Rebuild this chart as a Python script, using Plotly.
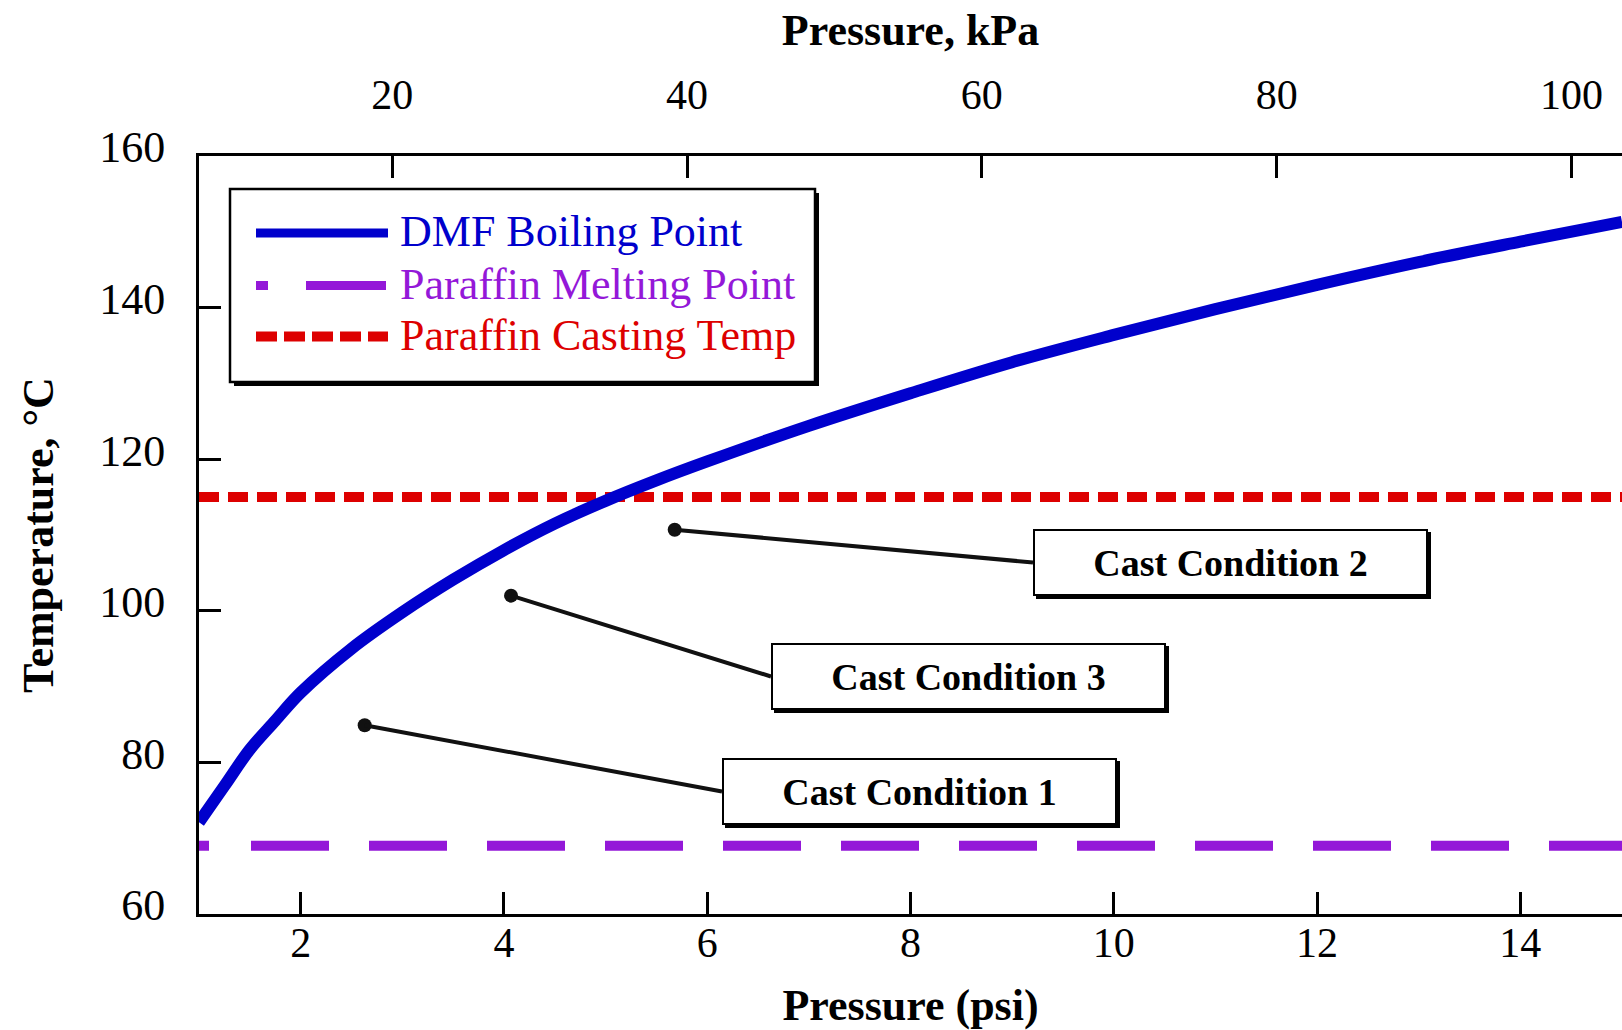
import plotly.graph_objects as go

# ---------------- data ----------------
psi = [1.0, 1.25, 1.5, 1.75, 2.0, 2.5, 3.0, 3.5, 4.0, 4.5, 5.0, 5.5, 6.0,
       7.0, 8.0, 9.0, 10.0, 11.0, 12.0, 13.0, 14.0, 15.0]
dmf_bp = [72.1, 76.9, 81.7, 85.5, 89.2, 95.0, 99.8, 104.1, 108.0, 111.5, 114.5,
          117.2, 119.7, 124.4, 128.7, 132.8, 136.4, 139.8, 143.0, 146.0, 148.7, 151.3]
x_range_psi = [1.0, 15.0]
melting_temp = 69.0
casting_temp = 115.0
cast_labels = ["Cast Condition 1", "Cast Condition 2", "Cast Condition 3"]
cast_psi = [2.63, 5.68, 4.07]
cast_temp = [84.9, 110.7, 102.0]
psi_ticks = [2, 4, 6, 8, 10, 12, 14]
kpa_ticks = [20, 40, 60, 80, 100]
temp_ticks = [60, 80, 100, 120, 140, 160]
KPA_PER_PSI = 6.895
legend_names = ["DMF Boiling Point", "Paraffin Melting Point", "Paraffin Casting Temp"]

# ---------------- layout constants ----------------
W, H = 1622, 1030
L, R, T, B = 199, 1622, 156, 914
FONT = "Liberation Serif, Times New Roman, serif"
BLUE = "#0000CC"
PURPLE = "#9418D8"
RED = "#DD0000"


def pxp(x):
    return (x - L) / (R - L)


def pyp(y):
    return (B - y) / (B - T)


def to_psi(x):
    return x_range_psi[0] + (x - L) / (R - L) * (x_range_psi[1] - x_range_psi[0])


def to_temp(y):
    return temp_ticks[0] + (B - y) / (B - T) * (temp_ticks[-1] - temp_ticks[0])


fig = go.Figure()

fig.add_trace(go.Scatter(x=x_range_psi, y=[casting_temp] * 2, mode="lines",
                         line=dict(color=RED, width=10, dash="20px,9px"),
                         showlegend=False, hoverinfo="skip"))
purple_dash = "10px,42px," + ",".join(["78px,40px"] * 12)
fig.add_trace(go.Scatter(x=x_range_psi, y=[melting_temp] * 2, mode="lines",
                         line=dict(color=PURPLE, width=10, dash=purple_dash),
                         showlegend=False, hoverinfo="skip"))
fig.add_trace(go.Scatter(x=psi, y=dmf_bp, mode="lines",
                         line=dict(color=BLUE, width=12, shape="spline"),
                         showlegend=False))
fig.add_trace(go.Scatter(x=cast_psi, y=cast_temp, mode="markers",
                         marker=dict(color="#111111", size=14),
                         showlegend=False))
# invisible trace on the kPa axis
fig.add_trace(go.Scatter(x=kpa_ticks, y=[None] * len(kpa_ticks), xaxis="x2",
                         mode="markers", showlegend=False, hoverinfo="skip"))

shapes = []
annotations = []

# ---- legend (manual) ----
lg_l, lg_t, lg_r, lg_b = 230, 189, 815, 382
shapes.append(dict(type="rect", xref="paper", yref="paper",
                   x0=pxp(lg_l + 4), x1=pxp(lg_r + 4), y0=pyp(lg_b + 4), y1=pyp(lg_t + 4),
                   fillcolor="black", line=dict(width=0), layer="above"))
shapes.append(dict(type="rect", xref="paper", yref="paper",
                   x0=pxp(lg_l), x1=pxp(lg_r), y0=pyp(lg_b), y1=pyp(lg_t),
                   fillcolor="white", line=dict(color="black", width=2.5), layer="above"))
rows_y = [233, 285.5, 336.5]
samples = [dict(color=BLUE, width=9, dash="solid"),
           dict(color=PURPLE, width=9, dash="12px,38px,80px,200px"),
           dict(color=RED, width=10, dash="21px,7px")]
colors = [BLUE, PURPLE, RED]
for name, yy, ln, c in zip(legend_names, rows_y, samples, colors):
    shapes.append(dict(type="line", xref="paper", yref="paper",
                       x0=pxp(256), x1=pxp(388), y0=pyp(yy), y1=pyp(yy),
                       line=ln, layer="above"))
    annotations.append(dict(xref="paper", yref="paper", x=pxp(398), y=pyp(yy - 1),
                            xanchor="left", yanchor="middle", showarrow=False,
                            text=name, font=dict(family=FONT, size=44, color=c)))

# ---- cast condition boxes ----
box_px = [(722, 758, 1117, 825), (1033, 529, 1428, 596), (771, 643, 1166, 710)]
for lab, x, y, (bl, bt, br, bb) in zip(cast_labels, cast_psi, cast_temp, box_px):
    shapes.append(dict(type="rect", xref="paper", yref="paper",
                       x0=pxp(bl + 3), x1=pxp(br + 3), y0=pyp(bb + 3), y1=pyp(bt + 3),
                       fillcolor="black", line=dict(width=0), layer="above"))
    annotations.append(dict(x=x, y=y, xref="x", yref="y",
                            ax=to_psi(bl), ay=to_temp((bt + bb) / 2), axref="x", ayref="y",
                            xanchor="left", yanchor="middle",
                            text="<b>" + lab + "</b>",
                            font=dict(family=FONT, size=38, color="black"),
                            showarrow=True, arrowhead=0, arrowwidth=4, arrowcolor="#111111",
                            standoff=0, bgcolor="white", bordercolor="black",
                            borderwidth=2, borderpad=0,
                            width=br - bl - 4, height=bb - bt - 4, align="center"))

axis_common = dict(showgrid=False, zeroline=False, showline=True, linecolor="black",
                   linewidth=3, ticks="inside", ticklen=22, tickwidth=3, tickcolor="black",
                   tickfont=dict(family=FONT, size=42, color="black"))

fig.update_layout(
    width=W, height=H,
    margin=dict(l=L, r=W - R, t=T, b=H - B, pad=0),
    paper_bgcolor="white", plot_bgcolor="white",
    showlegend=False,
    xaxis=dict(range=x_range_psi, tickvals=psi_ticks, **axis_common,
               ticklabelstandoff=-10,
               title=dict(text="<b>Pressure (psi)</b>", standoff=24,
                          font=dict(family=FONT, size=44, color="black"))),
    xaxis2=dict(range=[x_range_psi[0] * KPA_PER_PSI, x_range_psi[1] * KPA_PER_PSI],
                tickvals=kpa_ticks, overlaying="x", side="top", anchor="y",
                **axis_common, ticklabelstandoff=27,
                title=dict(text="<b>Pressure, kPa</b>", standoff=13,
                           font=dict(family=FONT, size=44, color="black"))),
    yaxis=dict(range=[temp_ticks[0], temp_ticks[-1]], tickvals=temp_ticks,
               showgrid=False, zeroline=False, showline=True, linecolor="black",
               linewidth=3, ticks="inside", ticklen=22, tickwidth=3, tickcolor="black",
               tickfont=dict(family=FONT, size=44, color="black"),
               ticklabelstandoff=22, ticklabelshift=-9,
               title=dict(text="<b>Temperature, °C</b>", standoff=32,
                          font=dict(family=FONT, size=44, color="black"))),
    shapes=shapes,
    annotations=annotations,
)

fig.write_html("out.html", config={"displayModeBar": False},
               post_script="document.body.style.margin='0px';document.body.style.overflow='hidden';")
